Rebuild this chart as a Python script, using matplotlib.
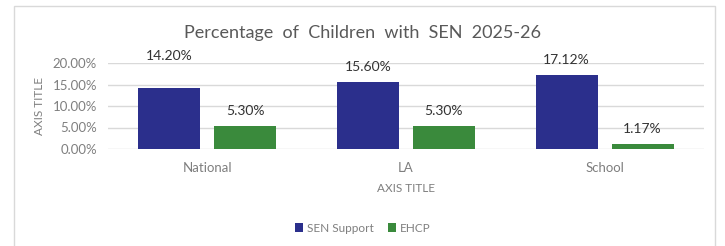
import matplotlib.pyplot as plt
import numpy as np
from matplotlib.patches import Rectangle
from matplotlib.ticker import FuncFormatter

# data
categories = ["National", "LA", "School"]
sen_support = [14.20, 15.60, 17.12]
ehcp = [5.30, 5.30, 1.17]
series_names = ["SEN Support", "EHCP"]
yticks = [0, 5, 10, 15, 20]

plt.rcParams['font.family'] = ['Lato', 'DejaVu Sans']
grey = "#7f7f7f"

fig = plt.figure(figsize=(7.25, 2.46), dpi=100)
ax = fig.add_axes([108 / 725, 1 - 149 / 246, (704 - 108) / 725, (149 - 63) / 246])

x = np.arange(len(categories))
w = 0.312
b1 = ax.bar(x - 0.191, sen_support, w, color="#2B2F8C", label=series_names[0], zorder=3)
b2 = ax.bar(x + 0.191, ehcp, w, color="#3A8A3C", label=series_names[1], zorder=3)

# value labels (the National one was dragged higher in the original)
offsets_sen = [19, 6.5, 6.5]
offsets_ehcp = [6.5, 6.5, 6.5]
for bars, vals, offs in [(b1, sen_support, offsets_sen), (b2, ehcp, offsets_ehcp)]:
    for bar, v, o in zip(bars, vals, offs):
        ax.annotate(f"{v:.2f}%", (bar.get_x() + bar.get_width() / 2, v),
                    xytext=(0, o), textcoords="offset points", ha="center",
                    va="bottom", fontsize=10, color="#333333")

ax.set_xlim(-0.5, 2.5)
ax.set_ylim(0, 20)
ax.set_yticks(yticks)
ax.yaxis.set_major_formatter(FuncFormatter(lambda v, p: f"{v:.2f}%"))
ax.set_xticks(x)
ax.set_xticklabels(categories)
ax.tick_params(length=0, colors=grey, labelsize=9.5)
ax.tick_params(axis="y", pad=8)
ax.tick_params(axis="x", pad=9)
ax.grid(axis="y", color="#d9d9d9", linewidth=1, zorder=0)
for s in ax.spines.values():
    s.set_visible(False)

ax.set_xlabel("AXIS TITLE", color=grey, fontsize=8.5, labelpad=7)
ax.set_ylabel("AXIS TITLE", color=grey, fontsize=8.5, labelpad=5)
fig.text(0.5, 1 - 33 / 246, "Percentage  of  Children  with  SEN  2025-26",
         ha="center", va="center", fontsize=13, color="#595959")

fig.legend(loc="center", bbox_to_anchor=(0.5, 1 - 228 / 246), ncol=2, frameon=False,
           fontsize=8.5, handlelength=0.7, handleheight=0.7, handletextpad=0.3,
           columnspacing=1.2, labelcolor=grey)

# chart border
fig.patches.append(Rectangle((14 / 725, -0.05), (715 - 14) / 725, 1.05 - 6 / 246,
                             transform=fig.transFigure, fill=False,
                             edgecolor="#d9d9d9", linewidth=1))

fig.savefig("out.png", dpi=100)
